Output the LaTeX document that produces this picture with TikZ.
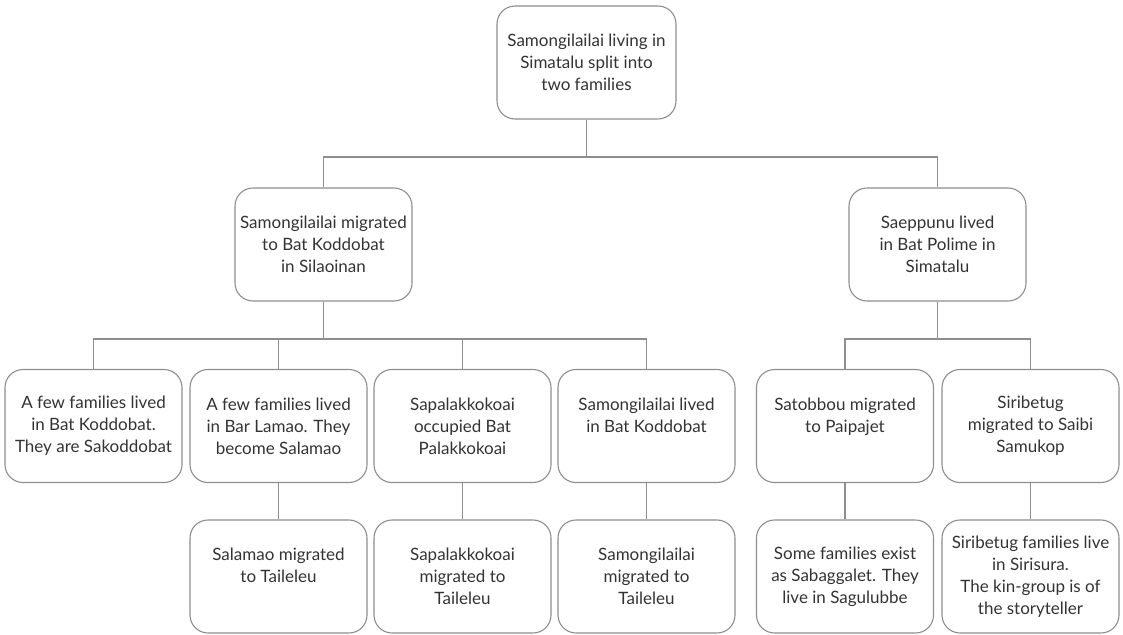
\documentclass[tikz,border=0pt]{standalone}
\usepackage{fontspec}
\setmainfont{Lato}
\begin{document}
\begin{tikzpicture}[x=1pt,y=-1pt,
  box/.style={draw=linegray, line width=1.1pt, rounded corners=18pt,
    minimum width=177pt, minimum height=113pt, align=center,
    text=textgray, font=\fontsize{17}{22}\selectfont, inner sep=0pt},
  link/.style={draw=linegray, line width=1.1pt}]
\definecolor{linegray}{HTML}{8E8E8E}
\definecolor{textgray}{HTML}{333333}
\useasboundingbox (0,0) rectangle (1123,634);

% root
\node[box, minimum width=179pt] (root) at (586.5,62.5)
  {Samongilailai living in\\Simatalu split into\\two families};

% second level
\node[box] (kod) at (323.5,244.5)
  {Samongilailai migrated\\to Bat Koddobat\\in Silaoinan};
\node[box] (sae) at (937.5,244.5)
  {Saeppunu lived\\in Bat Polime in\\Simatalu};

% third level
\node[box] (b1) at (93.5,426)
  {A few families lived\\in Bat Koddobat.\\They are Sakoddobat};
\node[box] (b2) at (278.5,426)
  {A few families lived\\in Bar Lamao. They\\become Salamao};
\node[box] (b3) at (462.5,426)
  {Sapalakkokoai\\occupied Bat\\Palakkokoai};
\node[box] (b4) at (646.5,426)
  {Samongilailai lived\\in Bat Koddobat\\\mbox{}};
\node[box] (b5) at (845,426)
  {Satobbou migrated\\to Paipajet\\\mbox{}};
\node[box] (b6) at (1030.5,426)
  {Siribetug\\migrated to Saibi\\Samukop};

% fourth level
\node[box] (c2) at (278.5,576.5)
  {Salamao migrated\\to Taileleu\\\mbox{}};
\node[box] (c3) at (462.5,576.5)
  {Sapalakkokoai\\migrated to\\Taileleu};
\node[box] (c4) at (646.5,576.5)
  {Samongilailai\\migrated to\\Taileleu};
\node[box] (c5) at (845,576.5)
  {Some families exist\\as Sabaggalet. They\\live in Sagulubbe};
\node[box] (c6) at (1030.5,576.5)
  {Siribetug families live\\in Sirisura.\\The kin-group is of\\the storyteller};

% bus heights
\coordinate (busA) at (0,157);
\coordinate (busB) at (0,339);

% root to second level
\draw[link] (root.south) -- (root.south |- busA);
\draw[link] (kod.north) -- (kod.north |- busA) -- (sae.north |- busA) -- (sae.north);

% left branch
\draw[link] (kod.south) -- (kod.south |- busB);
\draw[link] (b1.north) -- (b1.north |- busB) -- (b4.north |- busB) -- (b4.north);
\draw[link] (b2.north) -- (b2.north |- busB);
\draw[link] (b3.north) -- (b3.north |- busB);

% right branch
\draw[link] (sae.south) -- (sae.south |- busB);
\draw[link] (b5.north) -- (b5.north |- busB) -- (b6.north |- busB) -- (b6.north);

% fourth level links
\draw[link] (b2.south) -- (c2.north);
\draw[link] (b3.south) -- (c3.north);
\draw[link] (b4.south) -- (c4.north);
\draw[link] (b5.south) -- (c5.north);
\draw[link] (b6.south) -- (c6.north);
\end{tikzpicture}
\end{document}
